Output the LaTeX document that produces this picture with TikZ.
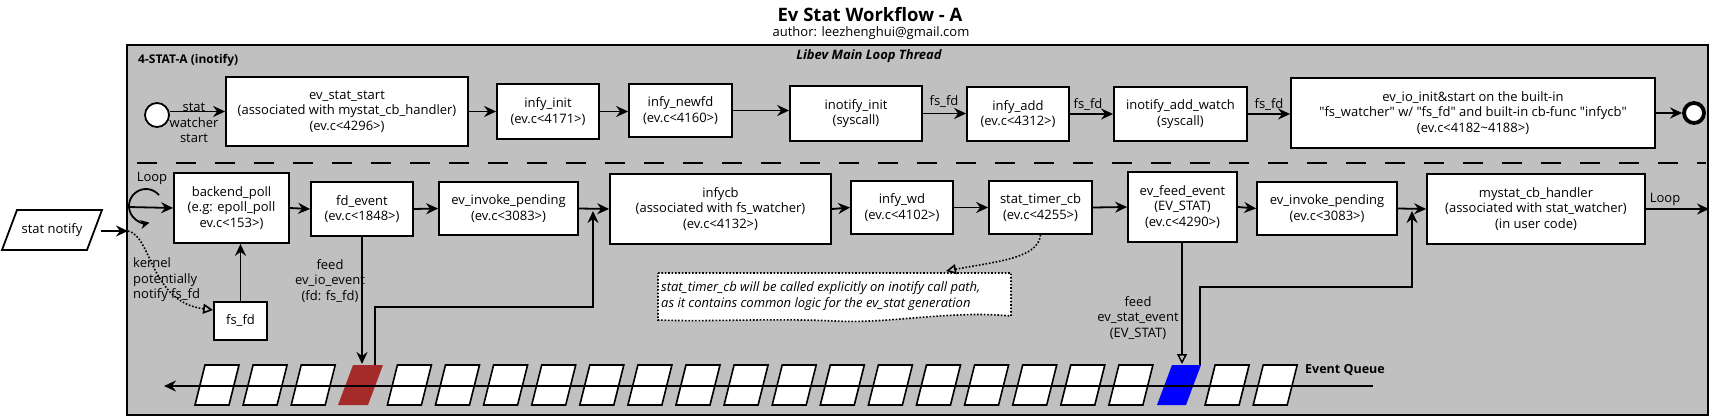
\documentclass[tikz,border=0pt]{standalone}
\usepackage{fontspec}
\setmainfont{Open Sans}
\usetikzlibrary{arrows.meta,calc}
\newcommand\myfs{\fontsize{13}{15.5}\selectfont}
\newcommand\qq{\textquotedbl}
\definecolor{framegray}{RGB}{192,192,192}
\definecolor{qred}{RGB}{165,42,42}
\definecolor{qblue}{RGB}{0,0,255}
\begin{document}
\begin{tikzpicture}[x=1pt,y=-1pt,
  box/.style={draw, fill=white, line width=1.8pt, align=center, inner sep=0pt, font=\myfs},
  lbl/.style={font=\myfs, align=center, inner sep=0pt},
  arr/.style={line width=1.8pt, -{Stealth[length=12pt,width=11pt,inset=4pt]}},
  openarr/.style={line width=1.5pt, -{Triangle[open,length=10pt,width=10pt]}},
  dotarr/.style={line width=1.6pt, dash pattern=on 1.6pt off 1.8pt, -{Triangle[open,length=10pt,width=10pt]}},
  cell/.style={draw, fill=white, line width=1.6pt},
]
\useasboundingbox (0,0) rectangle (1717,417);
\fill[white] (0,0) rectangle (1717,417);

% title
\node[font=\fontsize{18.5}{22}\selectfont\bfseries, inner sep=0pt] (title) at (870,15) {Ev Stat Workflow - A};
\node[font=\fontsize{13}{15}\selectfont, inner sep=0pt] (author) at (871,33) {author: leezhenghui@gmail.com};

% frame
\draw[fill=framegray, line width=1.8pt] (127,45) rectangle (1708,415);
\node[font=\fontsize{12}{14}\selectfont\bfseries, anchor=west, inner sep=0pt] (lane) at (138,60) {4-STAT-A (inotify)};
\node[font=\fontsize{13}{15}\selectfont\bfseries\itshape, inner sep=0pt] (thread) at (869,56) {Libev Main Loop Thread};
\draw[line width=1.8pt, dash pattern=on 20pt off 19pt] (137,163) -- (1706,163);

% ---------- row 1
\node[circle, draw, fill=white, line width=1.8pt, minimum size=24pt, inner sep=0pt] (st) at (157,115) {};
\node[box, minimum width=242pt, minimum height=69pt] (ss) at (347,111.5) {ev\_stat\_start\\(associated with mystat\_cb\_handler)\\(ev.c<4296>)};
\node[box, minimum width=102pt, minimum height=55pt] (ii) at (548,111.5) {infy\_init\\(ev.c<4171>)};
\node[box, minimum width=103pt, minimum height=53pt] (nf) at (680.5,110.5) {infy\_newfd\\(ev.c<4160>)};
\node[box, minimum width=132pt, minimum height=55pt] (ini) at (856,113.5) {inotify\_init\\(syscall)};
\node[box, minimum width=102pt, minimum height=54pt] (ia) at (1018,114) {infy\_add\\(ev.c<4312>)};
\node[box, minimum width=133pt, minimum height=54pt] (iaw) at (1180.5,114) {inotify\_add\_watch\\(syscall)};
\node[box, minimum width=364pt, minimum height=70pt] (eio) at (1473,113) {ev\_io\_init\&start on the built-in\\\qq fs\_watcher\qq{} w/ \qq fs\_fd\qq{} and built-in cb-func \qq infycb\qq\\(ev.c<4182\textasciitilde 4188>)};
\node[circle, draw, fill=white, line width=3.8pt, minimum size=20pt, inner sep=0pt] (endc) at (1694,113) {};

\draw[arr] (st.east |- ss.west) -- (ss.west);
\node[lbl] (swl) at (194,123) {stat\\watcher\\start};
\draw[arr] (ss.east) -- (ss.east -| ii.west);
\draw[arr] (ii.east) -- (ii.east -| nf.west);
\draw[arr] (nf.east) -- (nf.east -| ini.west);
\draw[arr] (ini.east) -- (ini.east -| ia.west);
\draw[arr] (ia.east) -- (ia.east -| iaw.west);
\draw[arr] (iaw.east) -- (iaw.east -| eio.west);
\draw[arr] (eio.east) -- (endc.west);
\node[lbl] (fs1) at (944,102) {fs\_fd};
\node[lbl] (fs2) at (1088,105) {fs\_fd};
\node[lbl] (fs3) at (1269,105) {fs\_fd};

% ---------- row 2
\node[box, minimum width=115pt, minimum height=70pt] (bp) at (231.5,208) {backend\_poll\\(e.g: epoll\_poll\\ev.c<153>)};
\node[box, minimum width=102pt, minimum height=54pt] (fe) at (362,209) {fd\_event\\(ev.c<1848>)};
\node[box, minimum width=139pt, minimum height=53pt] (ep1) at (508.5,208.5) {ev\_invoke\_pending\\(ev.c<3083>)};
\node[box, minimum width=221pt, minimum height=70pt] (icb) at (720.5,209) {infycb\\(associated with fs\_watcher)\\(ev.c<4132>)};
\node[box, minimum width=102pt, minimum height=53pt] (iwd) at (902,207.5) {infy\_wd\\(ev.c<4102>)};
\node[box, minimum width=103pt, minimum height=53pt] (stc) at (1040.5,207.5) {stat\_timer\_cb\\(ev.c<4255>)};
\node[box, minimum width=109pt, minimum height=70pt] (efe) at (1182.5,207) {ev\_feed\_event\\(EV\_STAT)\\(ev.c<4290>)};
\node[box, minimum width=140pt, minimum height=53pt] (ep2) at (1327,208.5) {ev\_invoke\_pending\\(ev.c<3083>)};
\node[box, minimum width=218pt, minimum height=70pt] (msh) at (1536,209) {mystat\_cb\_handler\\(associated with stat\_watcher)\\(in user code)};
\node[box, minimum width=53pt, minimum height=38pt] (fsfd) at (240.5,321) {fs\_fd};

% loop symbol
\node[lbl] (looplbl) at (152,178) {Loop};
\draw[line width=1.8pt, -{Stealth[length=9pt,width=9pt,inset=3pt]}] (159,195.1) arc[start angle=-40, end angle=-282, radius=17];
\coordinate (lin) at (128,207);
\draw[arr] (lin) -- (bp.west);

% stat notify
\path[draw, fill=white, line width=1.8pt] (17,210) -- (102,210) -- (87,250) -- (2,250) -- cycle;
\node[lbl] (sn) at (52,230) {stat notify};
\coordinate (snr) at (101,231);
\coordinate (fin) at (128,231);
\draw[arr] (snr) -- (fin);
\draw[dotarr] (fin) .. controls (152,236) and (150,302) .. ($(fsfd.west)+(0,-11)$);
\node[lbl, align=left, anchor=west] (kern) at (133,280) {kernel\\potentially\\notify fs\_fd};
\draw[arr] (fsfd.north) -- (fsfd.north |- bp.south);

\draw[arr] (bp.east) -- (fe.west);
\draw[arr] (fe.east) -- (ep1.west);
\draw[arr] (ep1.east) -- (icb.west);
\draw[arr] (icb.east) -- (iwd.west);
\draw[arr] (iwd.east) -- (stc.west);
\draw[arr] (stc.east) -- (efe.west);
\draw[arr] (efe.east) -- (ep2.west);
\draw[arr] (ep2.east) -- (msh.west);
\coordinate (loopend) at (1709,209);
\draw[arr] (msh.east) -- (loopend);
\node[lbl] (loopr) at (1665,199) {Loop};

% note
\path[draw, fill=white, line width=1.6pt, dash pattern=on 1.6pt off 1.8pt] (658,273) -- (1011,273) -- (1011,316) .. controls (950,310) and (890,324) .. (835,321) .. controls (770,318) and (710,322) .. (658,320) -- cycle;
\node[font=\myfs\itshape, align=left, anchor=west, inner sep=0pt] (note) at (661,296) {stat\_timer\_cb will be called explicitly on inotify call path,\\as it contains common logic for the ev\_stat generation};
\draw[dotarr] (stc.south) .. controls (1038,258) and (1000,261) .. (946,271);

% event queue
\foreach \i in {0,1,2,4,5,...,19,21,22} {
  \pgfmathsetmacro\xl{205+48.1*\i}
  \draw[cell] (\xl,365) -- ++(34,0) -- ++(-10,40) -- ++(-34,0) -- cycle;
}
\fill[qred] (353,365) -- (383,365) -- (368,405) -- (338,405) -- cycle;
\fill[qblue] (1172,365) -- (1201,365) -- (1186,405) -- (1157,405) -- cycle;
\coordinate (qend) at (1373,386);
\coordinate (qhead) at (164,386);
\draw[arr] (qend) -- (qhead);
\node[font=\fontsize{12.5}{14}\selectfont\bfseries, anchor=west, inner sep=0pt] (eq) at (1305,370) {Event Queue};

% feed arrows
\coordinate (redtop) at (362,364);
\draw[arr] (fe.south) -- (redtop);
\node[lbl] (feedio) at (330,281) {feed\\ev\_io\_event\\(fd: fs\_fd)};
\coordinate (bluetop) at (1182,364);
\draw[openarr] (efe.south -| bluetop) -- (bluetop);
\node[lbl] (feedst) at (1138,318) {feed\\ev\_stat\_event\\(EV\_STAT)};

% loop-backs
\coordinate (rback) at (375,365);
\coordinate (rtip) at (593,211);
\draw[arr] (rback) -- (375,307) -- (593,307) -- (rtip);
\coordinate (bback) at (1200,365);
\coordinate (btip) at (1412,211);
\draw[arr] (bback) -- (1200,287) -- (1412,287) -- (btip);
\end{tikzpicture}
\end{document}
